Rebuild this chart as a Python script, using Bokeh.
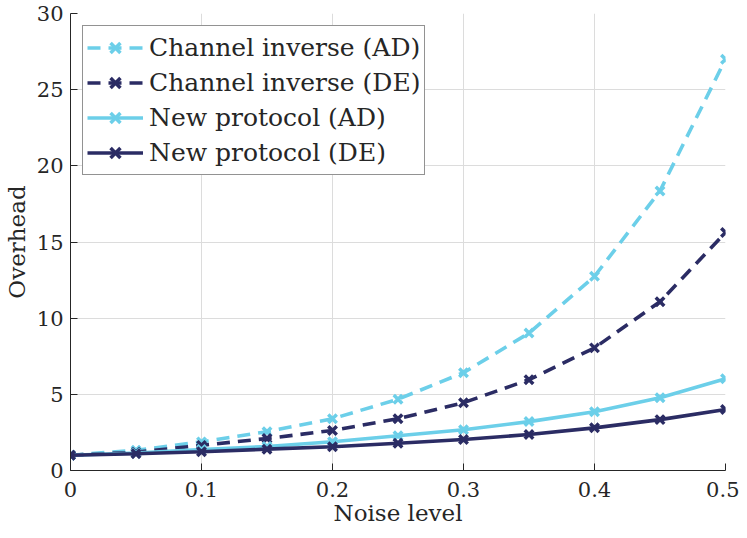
from bokeh.plotting import figure
from bokeh.models import Range1d, FixedTicker, CustomJSTickFormatter, Legend, LegendItem
from bokeh.embed import file_html
from bokeh.resources import INLINE

noise = [0.0, 0.05, 0.1, 0.15, 0.2, 0.25, 0.3, 0.35, 0.4, 0.45, 0.5]
inverse_ad = [1.0, 1.33, 1.88, 2.55, 3.4, 4.68, 6.42, 9.02, 12.75, 18.35, 27.0]
inverse_de = [1.0, 1.2, 1.65, 2.1, 2.63, 3.4, 4.45, 5.96, 8.05, 11.08, 15.62]
new_ad = [1.0, 1.15, 1.38, 1.58, 1.89, 2.28, 2.68, 3.21, 3.86, 4.78, 6.02]
new_de = [1.0, 1.1, 1.23, 1.4, 1.56, 1.79, 2.03, 2.36, 2.8, 3.34, 4.0]

x_ticks = [0, 0.1, 0.2, 0.3, 0.4, 0.5]
y_ticks = [0, 5, 10, 15, 20, 25, 30]

LIGHT = "#6ccfe9"
DARK = "#2b2c64"
TXT = "#262626"
FONT = "DejaVu Serif"

p = figure(width=739, height=530, output_backend="svg", toolbar_location=None,
           x_range=Range1d(0, 0.5), y_range=Range1d(0, 30),
           min_border_left=69, min_border_right=14, min_border_top=13, min_border_bottom=60)
p.outline_line_color = None
p.background_fill_color = "white"
p.border_fill_color = "white"

for ax in (p.xaxis[0], p.yaxis[0]):
    ax.axis_line_color = TXT
    ax.axis_line_width = 1
    ax.major_tick_line_color = TXT
    ax.major_tick_in = 7
    ax.major_tick_out = 0
    ax.minor_tick_line_color = None
    ax.major_label_text_font = FONT
    ax.major_label_text_font_size = "21px"
    ax.major_label_text_color = TXT
    ax.axis_label_text_font = FONT
    ax.axis_label_text_font_size = "23px"
    ax.axis_label_text_font_style = "normal"
    ax.axis_label_text_color = TXT

p.xaxis.ticker = FixedTicker(ticks=x_ticks)
p.yaxis.ticker = FixedTicker(ticks=y_ticks)
p.xaxis.formatter = CustomJSTickFormatter(code="return Number(tick.toFixed(2)).toString();")
p.yaxis.formatter = CustomJSTickFormatter(code="return Number(tick.toFixed(2)).toString();")
p.xaxis.axis_label = "Noise level"
p.yaxis.axis_label = "Overhead"
p.xaxis.major_label_standoff = 11
p.xaxis.axis_label_standoff = 0
p.yaxis.major_label_standoff = 7
p.yaxis.axis_label_standoff = 4

p.xgrid.grid_line_color = "#dcdcdc"
p.ygrid.grid_line_color = "#dcdcdc"

series = [
    ("Channel inverse (AD)", inverse_ad, LIGHT, "13 8"),
    ("Channel inverse (DE)", inverse_de, DARK, "13 8"),
    ("New protocol (AD)", new_ad, LIGHT, "solid"),
    ("New protocol (DE)", new_de, DARK, "solid"),
]

items = []
for name, ys, col, dash in series:
    ln = p.line(noise, ys, line_color=col, line_width=3.6, line_dash=dash)
    mk = p.scatter(noise, ys, marker="x", size=12, line_color=col, line_width=3.5)
    items.append(LegendItem(label=name, renderers=[ln, mk]))

legend = Legend(items=items, location="top_left", margin=12,
                label_text_font=FONT, label_text_font_size="25px", label_text_color=TXT,
                label_height=35, glyph_height=35, glyph_width=56, label_standoff=6,
                spacing=0, padding=4,
                border_line_color=TXT, border_line_width=1,
                background_fill_color="white", background_fill_alpha=1.0)
p.add_layout(legend)

open("out.html", "w").write(file_html(p, INLINE))
